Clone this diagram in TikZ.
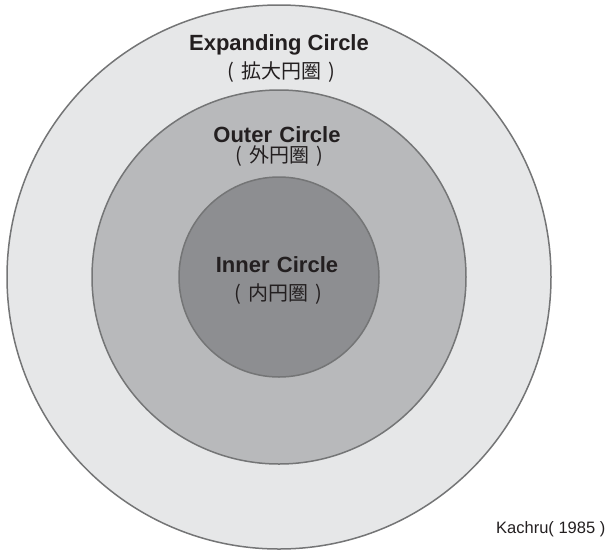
\documentclass[tikz,border=0pt]{standalone}
\usepackage{fontspec}
\setmainfont{Liberation Sans}
\newfontfamily\cjkjp{Noto Sans CJK JP}
\definecolor{ringA}{HTML}{E6E7E8}
\definecolor{ringB}{HTML}{B8B9BB}
\definecolor{ringC}{HTML}{8D8E91}
\definecolor{ringline}{HTML}{747576}
\definecolor{txt}{HTML}{231F20}
\newcommand{\pgap}{\hspace{7pt}}
\begin{document}
\begin{tikzpicture}[x=1pt,y=-1pt,
  ring/.style={draw=ringline,line width=1.5pt,circle,inner sep=0pt},
  title/.style={font=\bfseries\fontsize{22}{26}\selectfont,text=txt,anchor=base,inner sep=0pt},
  sub/.style={font=\cjkjp\fontsize{20}{24}\selectfont,text=txt,anchor=center,inner sep=0pt},
  cite/.style={font=\fontsize{16.5}{20}\selectfont,text=txt,anchor=base west,inner sep=0pt}]
\useasboundingbox (0,0) rectangle (616,550);
\node[ring,fill=ringA,minimum size=544pt] (outer) at (279,277) {};
\node[ring,fill=ringB,minimum size=374pt] (middle) at (279,277) {};
\node[ring,fill=ringC,minimum size=200pt] (inner) at (279,277) {};
\node[title] (exp) at (279,50) {Expanding Circle};
\node[sub] (expj) at (281,72) {(\pgap 拡大円圏\pgap )};
\node[title] (out) at (277,142) {Outer\,\,Circle};
\node[sub] (outj) at (279,156) {(\pgap 外円圏\pgap )};
\node[title] (inn) at (277,272) {Inner\,\,Circle};
\node[sub] (innj) at (278,294) {(\pgap 内円圏\pgap )};
\node[cite] (kachru) at (496,533) {Kachru( 1985 )};
\end{tikzpicture}
\end{document}
